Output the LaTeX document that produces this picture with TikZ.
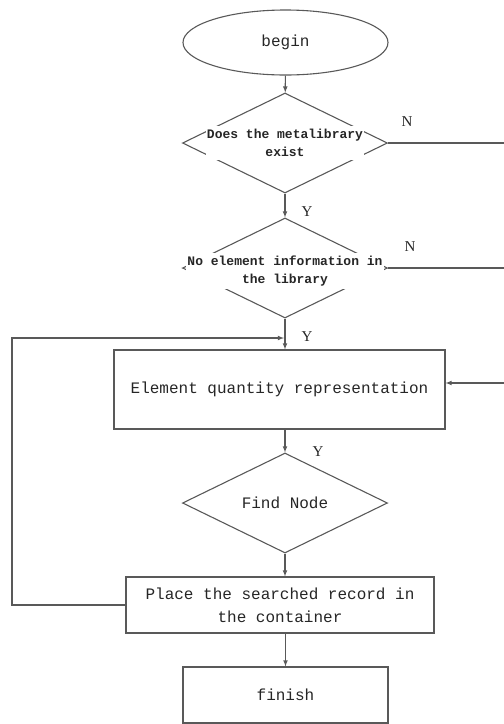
\documentclass[tikz,border=0pt]{standalone}
\usepackage{fontspec}
\setmonofont{Liberation Mono}
\setmainfont{Liberation Serif}
\usepackage{tikz}
\usetikzlibrary{shapes.geometric}
\usetikzlibrary{arrows}
\tikzset{every node/.style={text=black!85}}
\tikzset{flow/.style={draw=black!65,line width=1.1pt}}
\tikzset{decision/.style={flow,diamond,minimum width=205pt,minimum height=100pt,inner sep=0pt}}
\tikzset{dtext/.style={fill=white,inner xsep=1pt,inner ysep=3pt,align=center,font=\ttfamily\bfseries\fontsize{13}{18}\selectfont}}
\tikzset{process/.style={flow,rectangle,inner sep=0pt,align=center,font=\ttfamily\fontsize{16}{23}\selectfont}}
\tikzset{yn/.style={font=\fontsize{15}{15}\selectfont}}

\begin{document}
\begin{tikzpicture}[x=1pt,y=-1pt,>=latex]
		\useasboundingbox (0,0) rectangle (504,724);
		\node[flow,ellipse,minimum width=205pt,minimum height=65pt,inner sep=0pt,font=\ttfamily\fontsize{16}{16}\selectfont] (A) at (285.5,42.5) {begin};
		\node[decision,label={[dtext]center:{Does the metalibrary\\exist}}] (B) at (285,143) {};
		\node[decision,label={[dtext,yshift=-3pt]center:{No element information in\\the library}}] (C) at (285,268) {};
		\node[process,minimum width=331pt,minimum height=79pt] (D) at (279.5,389.5) {Element quantity representation};
		\node[decision,font=\ttfamily\fontsize{16}{16}\selectfont] (E) at (285,503) {Find Node};
		\node[process,minimum width=308pt,minimum height=56pt] (F) at (280,605) {Place the searched record in\\the container};
		\node[process,minimum width=205pt,minimum height=56pt] (G) at (285.5,695) {finish};
		\node[yn] (N1) at (407,122) {N};
		\node[yn] (N2) at (410,247) {N};
		\node[yn] (Y1) at (307,212) {Y};
		\node[yn] (Y2) at (307,337) {Y};
		\node[yn] (Y3) at (318,452) {Y};
		\coordinate (R1) at (504,143);
		\coordinate (R2) at (504,268);
		\coordinate (R3) at (504,383);
		\coordinate (K) at (12,338);
		\coordinate (L) at (284,338);
		\draw [flow,->] (A) -- (B);
		\draw [flow,->] (B) -- (C);
		\draw [flow,->] (C) -- (C |- D.north);
		\draw [flow,->] (D.south -| E) -- (E);
		\draw [flow,->] (E) -- (E |- F.north);
		\draw [flow,->] (F.south -| G) -- (G);
		\draw [flow] (B.east) -- (R1);
		\draw [flow] (C.east) -- (R2);
		\draw [flow,->] (R3) -- (D.east |- R3);
		\draw [flow,->] (F.west) -| (K) -- (L);
	\end{tikzpicture}
\end{document}
